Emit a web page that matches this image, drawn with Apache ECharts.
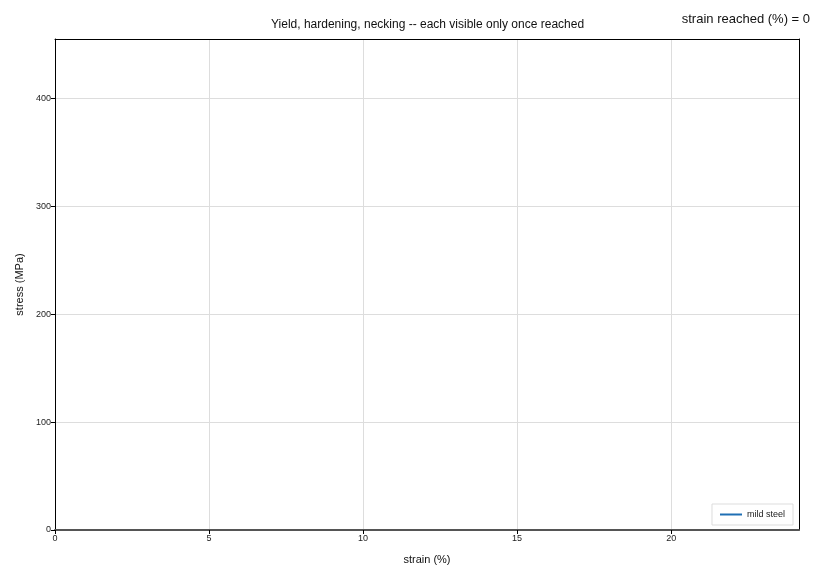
<!DOCTYPE html>
<html>
<head>
<meta charset="utf-8">
<script src="https://cdn.jsdelivr.net/npm/echarts@6/dist/echarts.min.js"></script>
<style>
	html, body { margin: 0; padding: 0; background: #fff; }
	#main { width: 820px; height: 580px; }
</style>
</head>
<body>
<div id="main"></div>
<script>
// 数据：应变已到达 0，曲线只有起点
var strainPct = [0];
var stressMPa = [0];
var strainReached = 0;
var seriesName = 'mild steel';

var points = [];
for (var i = 0; i < strainPct.length; ++i) {
	points.push([strainPct[i], stressMPa[i]]);
}

var myChart = echarts.init(document.getElementById('main'));

// 上、右边框用不带刻度的副轴画，避免被最大值处的网格线盖住
var frameAxis = {
	type: 'value',
	min: 0,
	axisLine: { show: true, onZero: false, lineStyle: { color: '#000', width: 1 } },
	axisTick: { show: false },
	axisLabel: { show: false },
	splitLine: { show: false }
};

var option = {
	animation: false,
	textStyle: { fontFamily: 'Liberation Sans, Arial, sans-serif' },
	title: [{
		text: 'Yield, hardening, necking -- each visible only once reached',
		left: 266,
		top: 14,
		textStyle: { fontSize: 12, fontWeight: 'normal', color: '#111' }
	}, {
		text: 'strain reached (%) = ' + strainReached,
		right: 5,
		top: 8,
		textStyle: { fontSize: 13, fontWeight: 'normal', color: '#111' }
	}],
	color: ['#1f6fb4'],
	legend: {
		data: [seriesName],
		right: 27,
		bottom: 55,
		orient: 'vertical',
		backgroundColor: '#fff',
		borderColor: '#ddd',
		borderWidth: 1,
		padding: [6, 8],
		itemWidth: 22,
		itemHeight: 2,
		icon: 'rect',
		textStyle: { fontSize: 9, color: '#222' }
	},
	grid: {
		left: 55,
		right: 21,
		top: 39,
		bottom: 50
	},
	xAxis: [{
		type: 'value',
		min: 0,
		max: 24.15,
		interval: 5,
		name: 'strain (%)',
		nameLocation: 'middle',
		nameGap: 24,
		nameTextStyle: { fontSize: 11, color: '#111' },
		axisLine: { show: true, onZero: false, lineStyle: { color: '#555', width: 2 } },
		axisTick: { show: true, length: 4, lineStyle: { color: '#000' } },
		axisLabel: { fontSize: 9, color: '#222', margin: 4, showMaxLabel: false },
		splitLine: { show: true, lineStyle: { color: '#ddd', width: 1 } }
	}, Object.assign({}, frameAxis, { position: 'top', max: 24.15 })],
	yAxis: [{
		type: 'value',
		min: 0,
		max: 455,
		interval: 100,
		name: 'stress (MPa)',
		nameLocation: 'middle',
		nameGap: 29,
		nameTextStyle: { fontSize: 11, color: '#111' },
		axisLine: { show: true, onZero: false, lineStyle: { color: '#000', width: 1 } },
		axisTick: { show: true, length: 4, lineStyle: { color: '#000' } },
		axisLabel: { fontSize: 9, color: '#222', margin: 4, showMaxLabel: false },
		splitLine: { show: true, lineStyle: { color: '#ddd', width: 1 } }
	}, Object.assign({}, frameAxis, { position: 'right', max: 455 })],
	series: [{
		name: seriesName,
		type: 'line',
		data: points,
		showSymbol: false,
		lineStyle: { width: 2 }
	}]
};

myChart.setOption(option);
</script>
</body>
</html>
